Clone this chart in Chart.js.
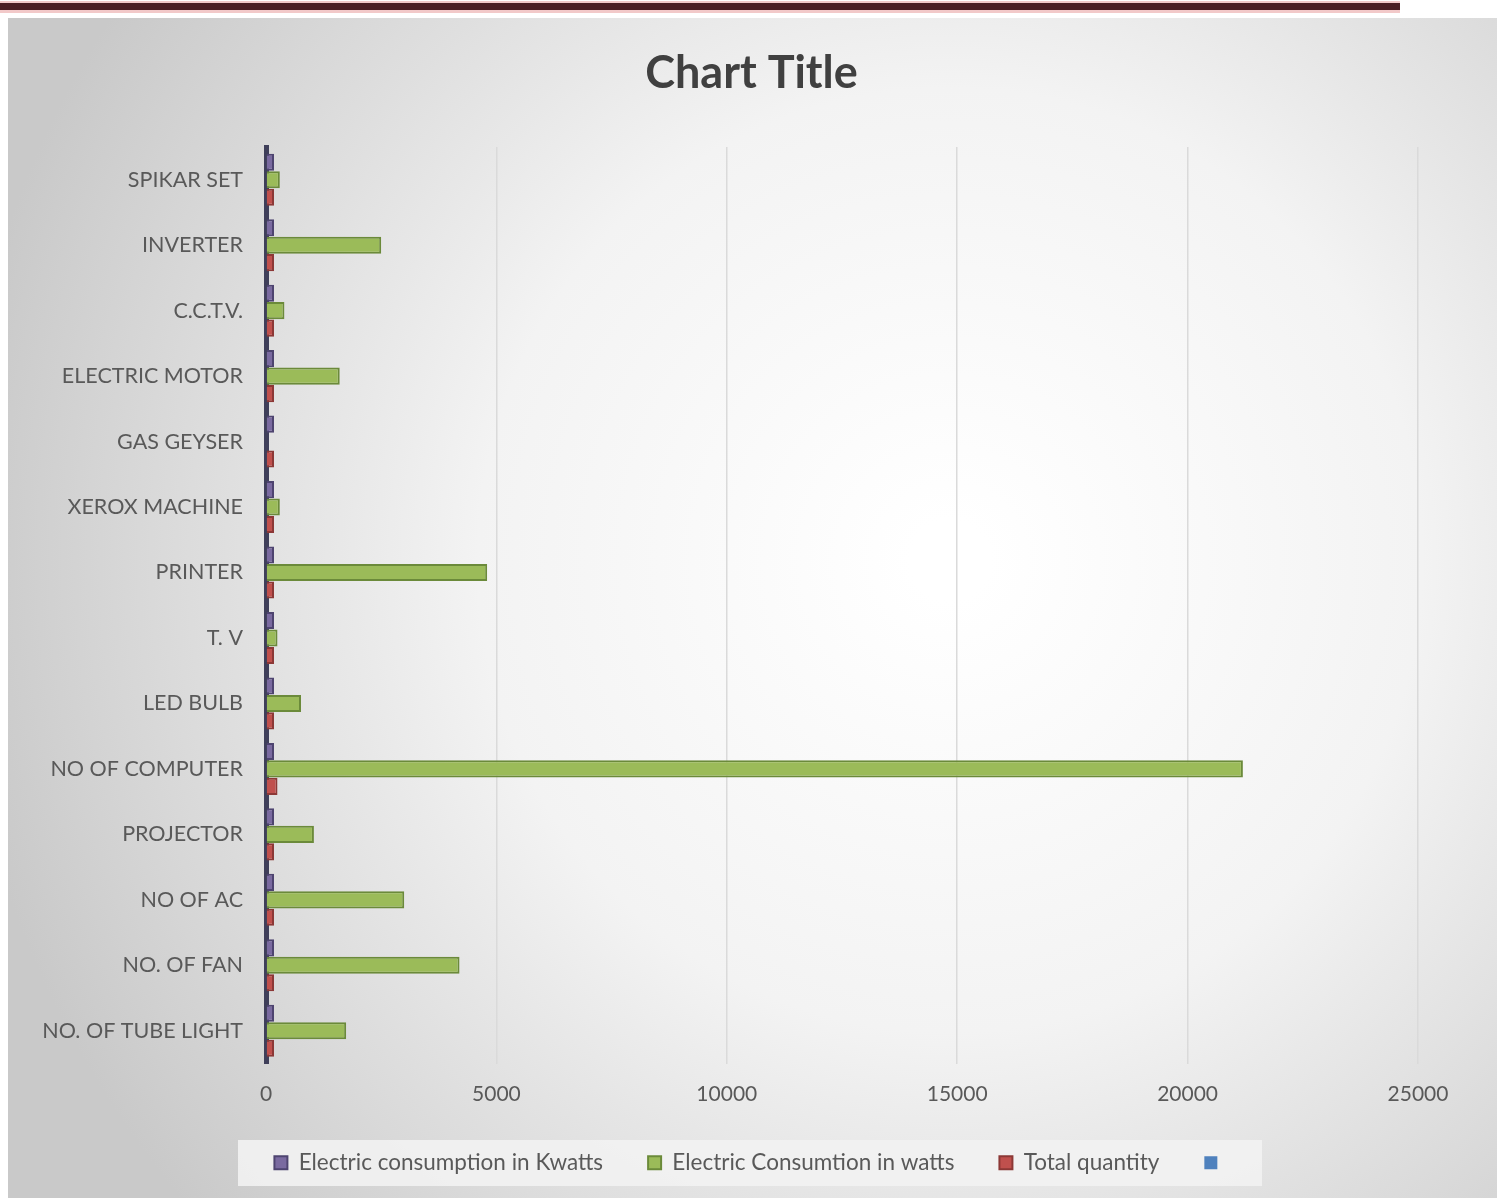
<!DOCTYPE html>
<html>
<head>
<meta charset="utf-8">
<script src="https://cdn.jsdelivr.net/npm/chart.js@4/dist/chart.umd.min.js"></script>
<style>
  body { margin: 0; background: #fff; }
  #wrap { width: 1503px; height: 1198px; }
</style>
</head>
<body>
<div id="wrap"><canvas id="chart" width="1503" height="1198"></canvas></div>
<script>
// categories listed top to bottom as they appear
var categories = ['SPIKAR SET', 'INVERTER', 'C.C.T.V.', 'ELECTRIC MOTOR', 'GAS GEYSER', 'XEROX MACHINE',
    'PRINTER', 'T. V', 'LED BULB', 'NO OF COMPUTER', 'PROJECTOR', 'NO OF AC', 'NO. OF FAN', 'NO. OF TUBE LIGHT']

var kwatts = [0.3, 2.5, 0.4, 1.6, 0, 0.3, 4.8, 0.25, 0.76, 21.2, 1.04, 3, 4.2, 1.74]
var watts = [300, 2500, 400, 1600, 0, 300, 4800, 250, 760, 21200, 1040, 3000, 4200, 1740]
var quantity = [2, 5, 8, 2, 2, 2, 8, 2, 20, 250, 5, 10, 60, 40]
var blankSeries = []

var xTicks = [0, 5000, 10000, 15000, 20000, 25000]

var bgPlugin = {
    id: 'bg',
    beforeDraw: function (chart) {
        var ctx = chart.ctx
        ctx.save()
        ctx.fillStyle = '#ffffff'
        ctx.fillRect(0, 0, 1503, 1198)
        // dark rule at the very top
        ctx.fillStyle = '#f2c9c9'
        ctx.fillRect(0, 1, 1400, 12)
        ctx.fillStyle = '#4b1f25'
        ctx.fillRect(0, 3, 1400, 7)
        // gray panel
        var g = ctx.createRadialGradient(950, 560, 40, 950, 560, 1000)
        g.addColorStop(0, '#ffffff')
        g.addColorStop(0.45, '#f3f3f3')
        g.addColorStop(1, '#c9c9c9')
        ctx.fillStyle = g
        ctx.fillRect(8, 18, 1489, 1180)
        // legend box
        ctx.fillStyle = 'rgba(242,242,242,0.9)'
        ctx.fillRect(238, 1140, 1024, 46)
        ctx.restore()
    }
}

new Chart(document.getElementById('chart').getContext('2d'), {
    type: 'bar',
    data: {
        labels: categories,
        datasets: [{
            label: 'Electric consumption in Kwatts',
            data: kwatts,
            backgroundColor: '#7a6aa0',
            borderColor: '#4e4470',
            borderWidth: 2,
            minBarLength: 8
        }, {
            label: 'Electric Consumtion in watts',
            data: watts,
            backgroundColor: '#9bbb59',
            borderColor: '#6b8a3a',
            borderWidth: 2
        }, {
            label: 'Total quantity',
            data: quantity,
            backgroundColor: '#c0504d',
            borderColor: '#8c3836',
            borderWidth: 2,
            minBarLength: 8
        }, {
            label: '',
            data: blankSeries,
            backgroundColor: '#4f81bd',
            borderColor: '#4f81bd',
            grouped: false
        }]
    },
    options: {
        indexAxis: 'y',
        responsive: false,
        animation: false,
        layout: { padding: { left: 35, right: 35, top: 18, bottom: 14 } },
        datasets: {
            bar: { categoryPercentage: 0.8, barPercentage: 0.98 }
        },
        scales: {
            x: {
                min: 0,
                max: 25000,
                afterBuildTicks: function (axis) {
                    axis.ticks = xTicks.map(function (v) { return { value: v } })
                },
                afterFit: function (axis) { axis.height = 43 },
                grid: { color: '#dadada', lineWidth: 1.5, drawTicks: false },
                border: { display: false },
                ticks: {
                    color: '#595959',
                    font: { family: 'Lato', size: 21 },
                    padding: 18,
                    callback: function (v) { return String(v) }
                }
            },
            y: {
                afterFit: function (axis) { axis.width = 231 },
                grid: { display: false, drawTicks: false },
                border: { display: true, color: '#3f3f5a', width: 5 },
                ticks: { color: '#595959', font: { family: 'Lato', size: 21.5 }, padding: 23 }
            },
            // empty strip on the right so the plot ends before the title's centre shifts
            yRight: {
                type: 'linear',
                axis: 'y',
                position: 'right',
                afterFit: function (axis) { axis.width = 50 },
                grid: { display: false, drawTicks: false },
                border: { display: false },
                ticks: { display: false }
            }
        },
        plugins: {
            title: {
                display: true,
                text: 'Chart Title',
                color: '#404040',
                font: { family: 'Lato', size: 45, weight: 'bold' },
                padding: { top: 28, bottom: 47 }
            },
            legend: {
                position: 'bottom',
                labels: {
                    color: '#595959',
                    font: { family: 'Lato', size: 22.5 },
                    boxWidth: 13,
                    boxHeight: 13,
                    padding: 45
                }
            },
            tooltip: { enabled: false }
        }
    },
    plugins: [bgPlugin]
})
</script>
</body>
</html>
